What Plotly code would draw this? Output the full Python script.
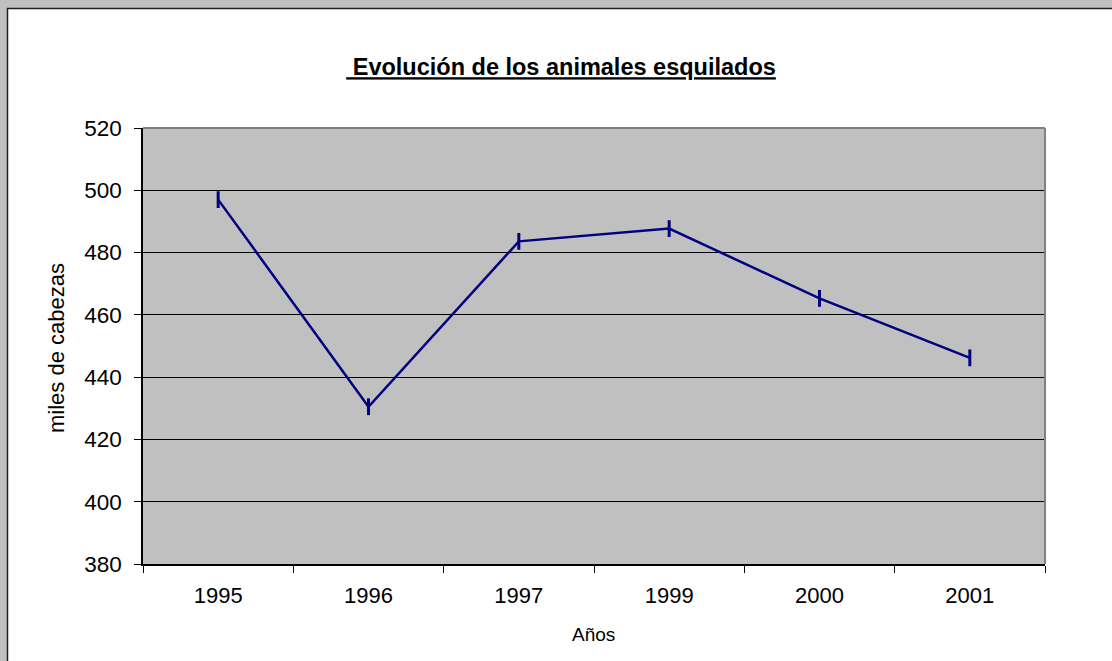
import plotly.graph_objects as go

years = ["1995", "1996", "1997", "1999", "2000", "2001"]
values = [497, 430.5, 483.6, 487.7, 465.3, 446.2]
y_ticks = [380, 400, 420, 440, 460, 480, 500, 520]

W, H = 1112, 661
L, R, T, B = 143, 1045, 128, 564
pw, ph = R - L, B - T

def px(x):
    return (x - L) / pw

def py(y):
    return (B - y) / ph

FONT = "Liberation Sans, Arial, sans-serif"
NAVY = "#000080"

fig = go.Figure()
fig.add_trace(go.Scatter(
    x=years, y=values, mode="lines+markers",
    line=dict(color=NAVY, width=2.5),
    marker=dict(symbol="line-ns", size=12, line=dict(color=NAVY, width=3), color=NAVY),
    showlegend=False, hoverinfo="x+y",
))

shapes = [
    # outer gray frame strips
    dict(type="rect", xref="paper", yref="paper", x0=px(-20), x1=px(7), y0=py(700), y1=py(-20),
         fillcolor="#C0C0C0", line=dict(width=0), layer="above"),
    dict(type="rect", xref="paper", yref="paper", x0=px(-20), x1=px(1130), y0=py(8), y1=py(-20),
         fillcolor="#C0C0C0", line=dict(width=0), layer="above"),
    dict(type="line", xref="paper", yref="paper", x0=px(7.5), x1=px(7.5), y0=py(8), y1=py(700),
         line=dict(color="#202020", width=1.5), layer="above"),
    dict(type="line", xref="paper", yref="paper", x0=px(7), x1=px(1130), y0=py(8.5), y1=py(8.5),
         line=dict(color="#202020", width=1.5), layer="above"),
    # plot area border (top, right) in gray
    dict(type="line", xref="paper", yref="paper", x0=0, x1=1, y0=1, y1=1,
         line=dict(color="#808080", width=2), layer="above"),
    dict(type="line", xref="paper", yref="paper", x0=1, x1=1, y0=0, y1=1,
         line=dict(color="#808080", width=2), layer="above"),
]

annotations = [
    dict(text="miles de cabezas", xref="paper", yref="paper", x=px(56), y=py(348),
         showarrow=False, textangle=-90, font=dict(family=FONT, size=22, color="black"),
         xanchor="center", yanchor="middle"),
    dict(text="Años", xref="paper", yref="paper", x=px(593), y=py(634),
         showarrow=False, font=dict(family=FONT, size=19, color="black"),
         xanchor="center", yanchor="middle"),
]

fig.update_layout(
    width=W, height=H,
    margin=dict(l=L, r=W - R, t=T, b=H - B, pad=0),
    paper_bgcolor="white",
    plot_bgcolor="#C0C0C0",
    title=dict(text="<u><b>\u00a0Evolución de los animales esquilados</b></u>",
               xref="container", yref="container", x=561 / W, y=1 - 67 / H,
               xanchor="center", yanchor="middle",
               font=dict(family=FONT, size=23.5, color="black")),
    xaxis=dict(type="category", categoryorder="array", categoryarray=years,
               range=[-0.5, len(years) - 0.5], autorange=False,
               tickson="boundaries", ticks="outside", ticklen=7, tickcolor="black", tickwidth=1,
               showgrid=False, showline=True, linecolor="black", linewidth=1.5,
               tickfont=dict(family=FONT, size=22, color="black"),
               ticklabelstandoff=11, zeroline=False, fixedrange=True),
    yaxis=dict(range=[380, 520], tickmode="array", tickvals=y_ticks,
               ticktext=[str(v) for v in y_ticks],
               ticks="outside", ticklen=7, tickcolor="black", tickwidth=1,
               showgrid=True, gridcolor="black", gridwidth=1,
               showline=True, linecolor="black", linewidth=1.5,
               tickfont=dict(family=FONT, size=22.5, color="black"),
               ticklabelstandoff=8, zeroline=False, fixedrange=True),
    shapes=shapes,
    annotations=annotations,
)

fig.write_html("out.html", config={"displayModeBar": False},
               post_script="document.body.style.margin='0';document.body.style.padding='0';")
